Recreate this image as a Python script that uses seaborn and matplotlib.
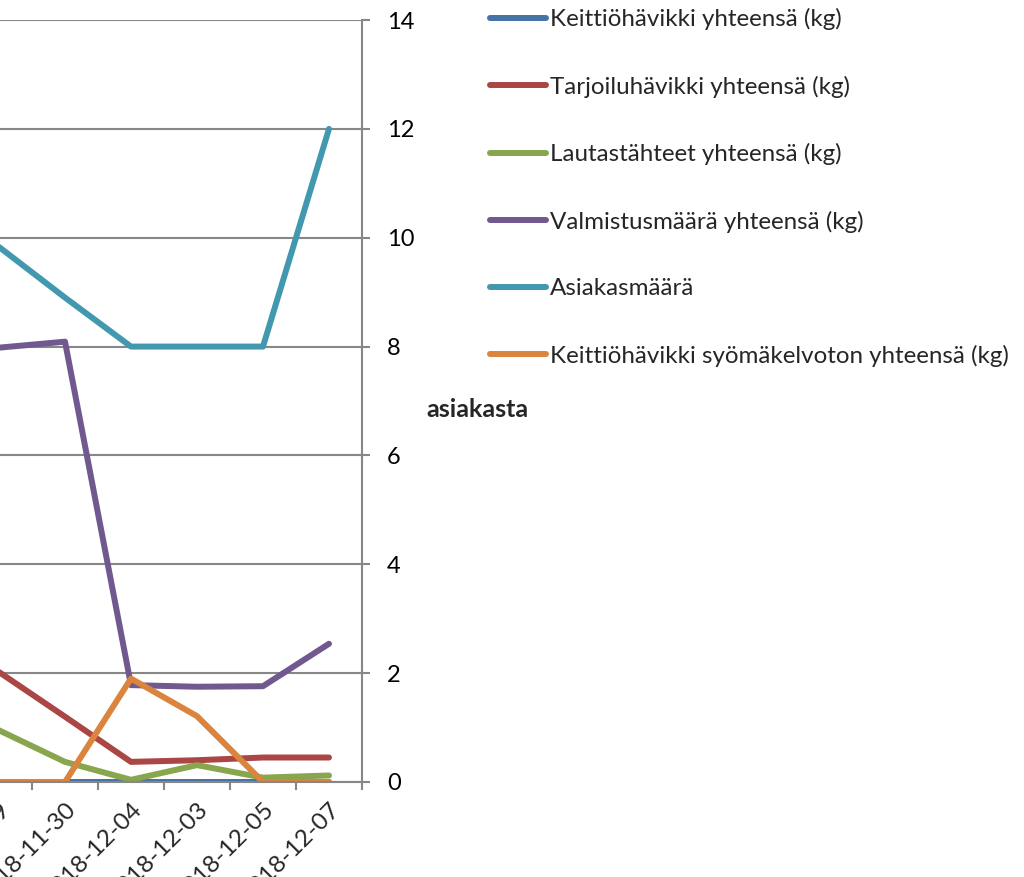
import matplotlib
matplotlib.use("Agg")
import matplotlib.pyplot as plt
import numpy as np
import pandas as pd
import seaborn as sns

# categories (left-most one lies outside the visible crop)
dates = ["2018-11-29", "2018-11-30", "2018-12-04", "2018-12-03", "2018-12-05", "2018-12-07"]

keittio = [0.0, 0.0, 0.0, 0.0, 0.0, 0.0]
tarjoilu = [2.02, 1.2, 0.37, 0.4, 0.45, 0.45]
lautas = [0.95, 0.37, 0.04, 0.31, 0.08, 0.12]
valmistus = [7.98, 8.09, 1.78, 1.75, 1.76, 2.54]
asiakas = [9.83, 8.9, 8.0, 8.0, 8.0, 12.0]
syomak = [0.0, 0.0, 1.9, 1.21, 0.0, 0.0]

series_names = [
    "Keittiöhävikki yhteensä (kg)",
    "Tarjoiluhävikki yhteensä (kg)",
    "Lautastähteet yhteensä (kg)",
    "Valmistusmäärä yhteensä (kg)",
    "Asiakasmäärä",
    "Keittiöhävikki syömäkelvoton yhteensä (kg)",
]
series_values = [keittio, tarjoilu, lautas, valmistus, asiakas, syomak]
colors = ["#4572A7", "#AA4643", "#89A54E", "#71588F", "#4198AF", "#DB843D"]

rows = []
for name, vals in zip(series_names, series_values):
    for i, v in enumerate(vals):
        rows.append({"pos": i, "value": v, "series": name})
df = pd.DataFrame(rows)

sns.set_style("white")
plt.rcParams["font.family"] = ["Lato", "DejaVu Sans"]

W, H = 1024, 877
fig = plt.figure(figsize=(W / 100, H / 100), dpi=100)
ax = fig.add_axes([-34 / W, 95 / H, 396 / W, 762 / H])

sns.lineplot(data=df, x="pos", y="value", hue="series", hue_order=series_names,
             palette=colors, linewidth=4.3, sort=False, ax=ax, legend=False,
             solid_capstyle="round")

ax.set_xlim(-0.5, len(dates) - 0.5)
ax.set_ylim(0, 14)
ax.set_yticks(np.arange(0, 15, 2))
ax.yaxis.tick_right()
ax.grid(axis="y", color="#878787", linewidth=1.5)
ax.grid(axis="x", visible=False)
ax.set_axisbelow(True)

for s in ["top", "left"]:
    ax.spines[s].set_visible(False)
ax.spines["right"].set_color("#878787")
ax.spines["right"].set_linewidth(1.5)
ax.spines["bottom"].set_color("#878787")
ax.spines["bottom"].set_linewidth(1.5)

ax.tick_params(axis="y", which="major", right=True, length=6, width=1.5,
               color="#878787", pad=12, labelsize=17, labelcolor="black")

# tick marks between categories, labels at centres
ax.set_xticks(np.arange(len(dates)))
ax.set_xticklabels(dates, rotation=45, ha="right", va="top",
                   rotation_mode="anchor", fontsize=17.5)
ax.set_xticks(np.arange(len(dates) + 1) - 0.5, minor=True)
ax.tick_params(axis="x", which="major", length=0, pad=12)
ax.tick_params(axis="x", which="minor", bottom=True, length=6, width=1.5,
               color="#878787")
ax.set_xlabel("")
ax.set_ylabel("")

fig.text(426 / W, 1 - 410 / H, "asiakasta", fontsize=18, fontweight="bold",
         ha="left", va="center")

handles = [plt.Line2D([], [], color=c, linewidth=4.3, solid_capstyle="round")
           for c in colors]
fig.legend(handles, series_names, loc="upper left",
           bbox_to_anchor=(490 / W, 1 - 8 / H), frameon=False, fontsize=17.4,
           handlelength=2.3, handletextpad=0.17, labelspacing=1.88,
           borderaxespad=0, borderpad=0)

fig.savefig("out.png", dpi=100)
